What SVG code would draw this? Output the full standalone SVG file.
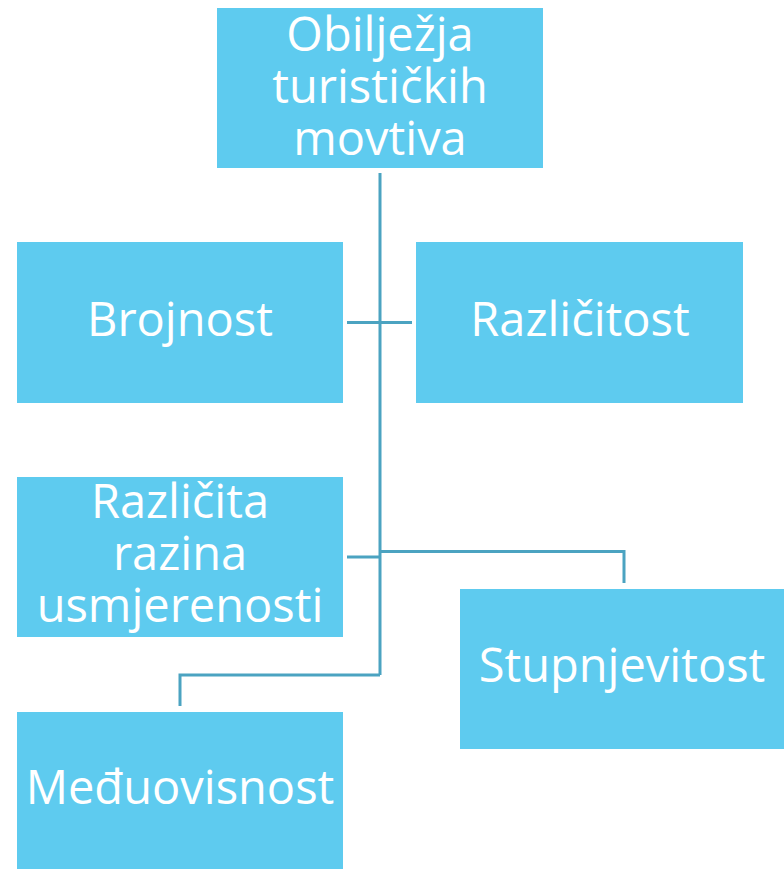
<svg xmlns="http://www.w3.org/2000/svg" width="784" height="869" viewBox="0 0 784 869">
<style>
.box{fill:#5ECBEF;}
.t{font-family:"Open Sans","DejaVu Sans",sans-serif;font-size:47px;fill:#FFFFFF;text-anchor:middle;}
.c{fill:none;stroke:#4BA3C1;stroke-width:3;}
</style>
<rect width="784" height="869" fill="#FFFFFF"/>
<g id="connectors">
<path class="c" d="M380,173 V675"/>
<path class="c" d="M347,322.5 H412"/>
<path class="c" d="M347,557 H380"/>
<path class="c" d="M380,551.5 H624 V583"/>
<path class="c" d="M380,675 H180 V706"/>
</g>
<g id="n_top">
<rect class="box" x="217" y="8" width="326" height="160"/>
<text class="t" x="380" y="51">Obilježja</text>
<text class="t" x="380" y="103">turističkih</text>
<text class="t" x="380" y="155">movtiva</text>
</g>
<g id="n_brojnost">
<rect class="box" x="17" y="242" width="326" height="161"/>
<text class="t" x="180" y="336">Brojnost</text>
</g>
<g id="n_razlicitost">
<rect class="box" x="416" y="242" width="327" height="161"/>
<text class="t" x="580" y="336">Različitost</text>
</g>
<g id="n_razina">
<rect class="box" x="17" y="477" width="326" height="160"/>
<text class="t" x="180" y="518">Različita</text>
<text class="t" x="180" y="570">razina</text>
<text class="t" x="180" y="622">usmjerenosti</text>
</g>
<g id="n_stupnjevitost">
<rect class="box" x="460" y="589" width="324" height="160"/>
<text class="t" x="622" y="682">Stupnjevitost</text>
</g>
<g id="n_meduovisnost">
<rect class="box" x="17" y="712" width="326" height="157"/>
<text class="t" x="180" y="804">Međuovisnost</text>
</g>
</svg>
